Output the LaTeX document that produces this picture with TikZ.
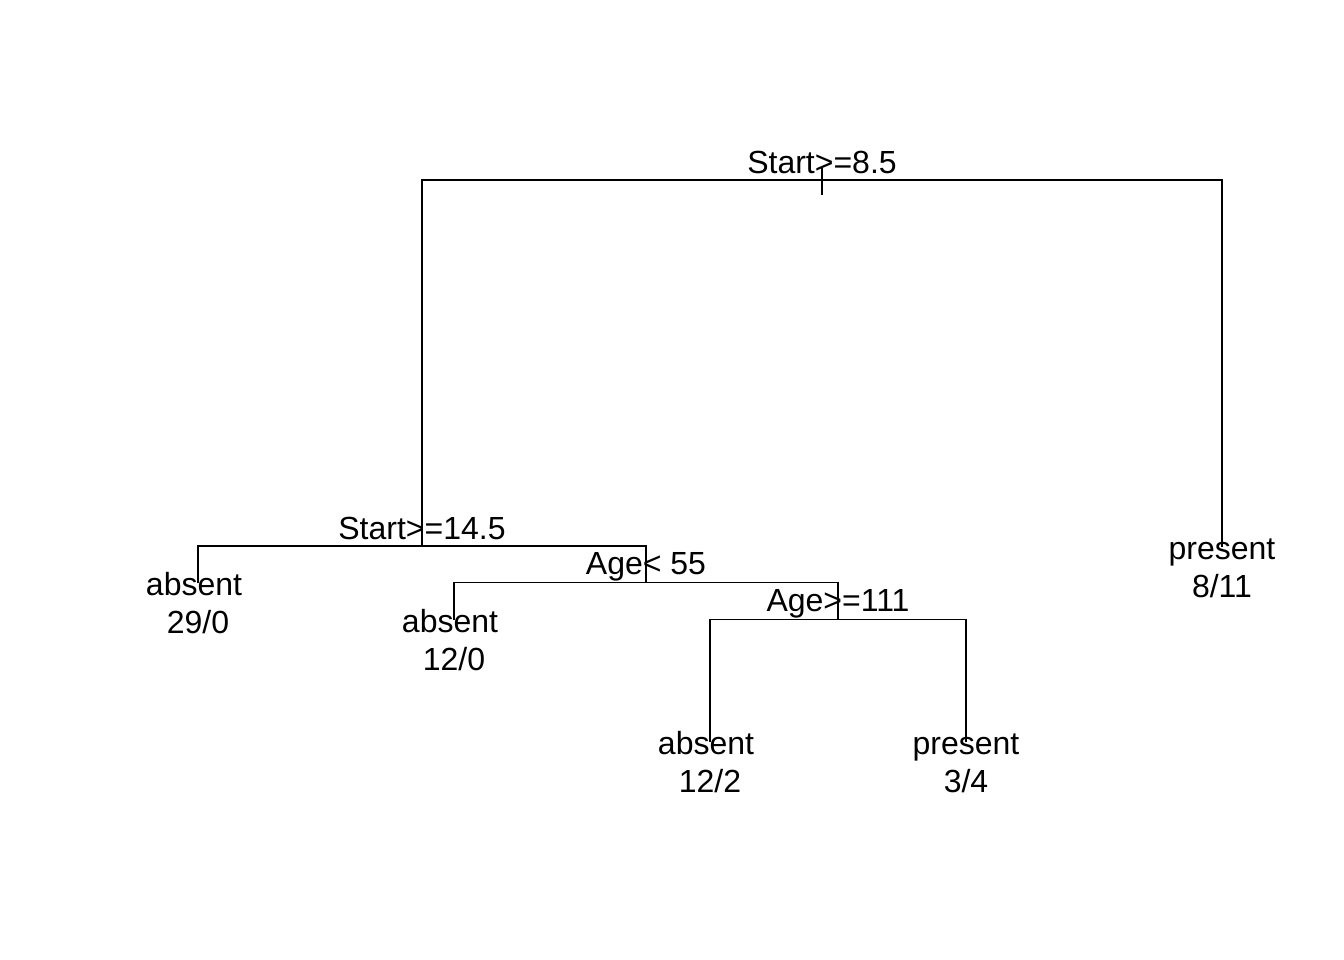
\documentclass[tikz,border=0pt]{standalone}
\usepackage{fontspec}
\setmainfont{Liberation Sans}
\begin{document}
\begin{tikzpicture}[x=1pt,y=-1pt,line width=1.4pt,
  lbl/.style={font=\fontsize{32}{38.4}\selectfont, inner sep=0pt, anchor=base},
  edge/.style={draw=black, line width=1.4pt}]
\useasboundingbox (0,0) rectangle (1344,960);
% split points
\coordinate (s1) at (822,180);
\coordinate (s1top) at (822,168);
\coordinate (s1bot) at (822,195);
\coordinate (s2) at (422,546);
\coordinate (s3) at (646,582.5);
\coordinate (s4) at (838,619.5);
% leaf points
\coordinate (l1) at (198,583);
\coordinate (l2) at (454,620);
\coordinate (l3) at (710,742);
\coordinate (l4) at (966,742);
\coordinate (l5) at (1222,547);
% connectors
\draw[edge] (s1top) -- (s1bot);
\draw[edge] (s2) |- (s1) -| (l5);
\draw[edge] (l1) |- (s2) -| (s3);
\draw[edge] (l2) |- (s3) -| (s4);
\draw[edge] (l3) |- (s4) -| (l4);
% split labels
\node[lbl] (t1) at (822,173.5) {Start>=8.5};
\node[lbl] (t2) at (422,539.5) {Start>=14.5};
\node[lbl] (t3) at (646,574.5) {Age< 55};
\node[lbl] (t4) at (838,611.5) {Age>=111};
% leaf labels
\node[lbl] (c1) at (194,595.5) {absent};
\node[lbl] (n1) at (198,633.9) {29/0};
\node[lbl] (c2) at (450,632.5) {absent};
\node[lbl] (n2) at (454,670.9) {12/0};
\node[lbl] (c3) at (706,754.5) {absent};
\node[lbl] (n3) at (710,792.9) {12/2};
\node[lbl] (c4) at (966,754.5) {present};
\node[lbl] (n4) at (966,792.9) {3/4};
\node[lbl] (c5) at (1222,559.5) {present};
\node[lbl] (n5) at (1222,597.9) {8/11};
\end{tikzpicture}
\end{document}
